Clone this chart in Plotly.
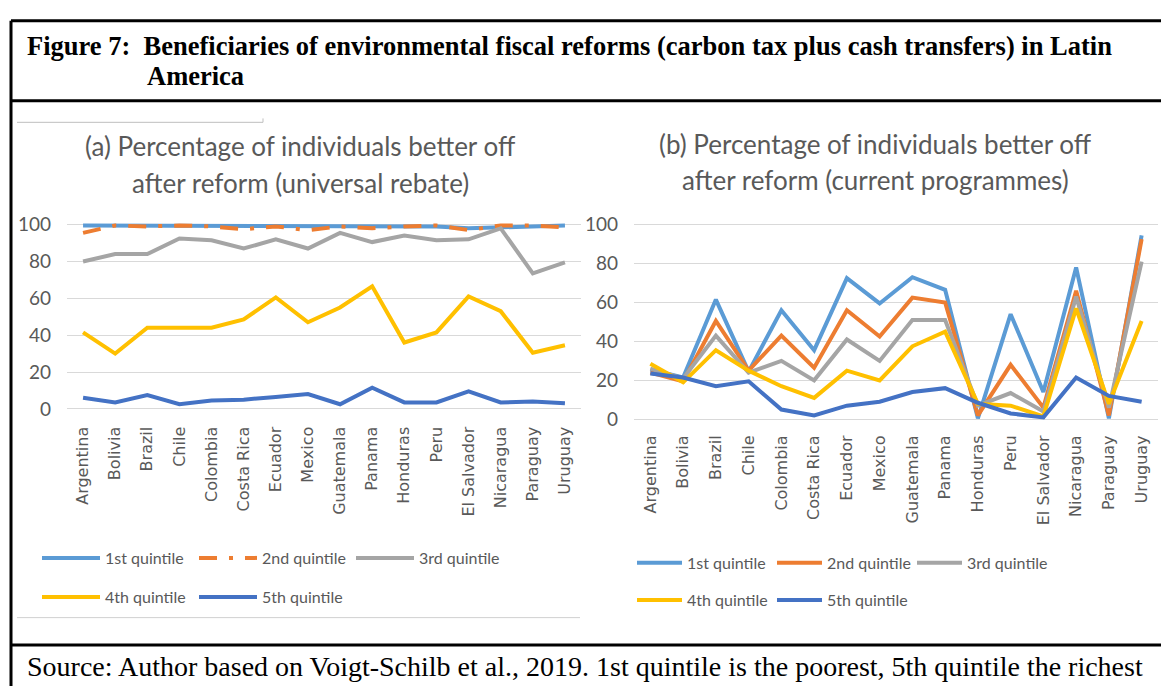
import plotly.graph_objects as go

W, H = 1161, 693

countries = ["Argentina", "Bolivia", "Brazil", "Chile", "Colombia", "Costa Rica", "Ecuador",
             "Mexico", "Guatemala", "Panama", "Honduras", "Peru", "El Salvador", "Nicaragua",
             "Paraguay", "Uruguay"]

series_names = ["1st quintile", "2nd quintile", "3rd quintile", "4th quintile", "5th quintile"]

# (a) universal rebate
a_q1 = [99.5, 99.5, 99.5, 99.5, 99.5, 99.5, 99.5, 99.5, 99.5, 99.5, 99.5, 99, 98, 98.5, 99.5, 99.5]
a_q2 = [95.5, 99.5, 99, 99.5, 99, 97.5, 99, 97, 99, 98, 99, 99.5, 97, 99.5, 99.5, 98.5]
a_q3 = [80, 84, 84, 92.5, 91.5, 87, 92, 87, 95.5, 90.5, 94, 91.5, 92, 98, 73.5, 79.5]
a_q4 = [41.5, 30, 44, 44, 44, 48.5, 60.5, 47, 55, 66.5, 36, 41.5, 61, 53, 30.5, 34.5]
a_q5 = [6, 3.5, 7.5, 2.5, 4.5, 5, 6.5, 8, 2.5, 11.5, 3.5, 3.5, 9.5, 3.5, 4, 3]

# (b) current programmes
b_q1 = [25.5, 21.5, 61.5, 24.5, 56, 35.5, 72.5, 59.5, 73, 66.5, 0.5, 54, 14, 78, 0.5, 94.5]
b_q2 = [24, 19.5, 50.5, 25, 43, 26.5, 56, 42.5, 62.5, 60, 2, 28, 6, 66, 2, 92.5]
b_q3 = [26, 21, 43, 24, 30, 20, 41, 30, 51, 51, 7, 13.5, 4, 63, 6, 81]
b_q4 = [28.5, 19, 35.5, 25, 17, 11, 25, 20, 37.5, 45, 8, 7, 1.5, 57, 8, 50.5]
b_q5 = [23.5, 21.5, 17, 19.5, 5, 2, 7, 9, 14, 16, 8.5, 3, 1, 21.5, 12, 9]

y_ticks = [0, 20, 40, 60, 80, 100]

colors = ["#5B9BD5", "#ED7D31", "#A5A5A5", "#FFC000", "#4472C4"]
dashes_a = ["solid", "18px,12px,4px,12px", "solid", "solid", "solid"]
GRAY = "#595959"
CHART_FONT = "Lato"


def px(x):
    return x / W


def py(y):
    return 1 - y / H


fig = go.Figure()

a_series = [a_q1, a_q2, a_q3, a_q4, a_q5]
b_series = [b_q1, b_q2, b_q3, b_q4, b_q5]

for i, (name, vals) in enumerate(zip(series_names, a_series)):
    fig.add_trace(go.Scatter(
        x=countries, y=vals, name=name, mode="lines",
        line=dict(color=colors[i], width=4, dash=dashes_a[i]),
        xaxis="x", yaxis="y",
        legend="legend" if i < 3 else "legend2",
    ))

for i, (name, vals) in enumerate(zip(series_names, b_series)):
    fig.add_trace(go.Scatter(
        x=countries, y=vals, name=name, mode="lines",
        line=dict(color=colors[i], width=4),
        xaxis="x2", yaxis="y2",
        legend="legend3" if i < 3 else "legend4",
    ))

xcommon = dict(type="category", range=[-0.5, 15.5], tickangle=-90, showgrid=False,
               showline=False, zeroline=False, ticks="",
               tickfont=dict(family="DejaVu Sans", size=16, color=GRAY))
ycommon = dict(range=[-2, 102], tickvals=y_ticks, showgrid=True, gridcolor="#D9D9D9",
               gridwidth=1, zeroline=False, showline=False, ticks="",
               tickfont=dict(family=CHART_FONT, size=19, color=GRAY), ticklabelstandoff=15)

leg_common = dict(orientation="h", xanchor="left", yanchor="middle", bgcolor="rgba(0,0,0,0)",
                  font=dict(family=CHART_FONT, size=16, color=GRAY), traceorder="normal",
                  tracegroupgap=0)

fig.update_layout(
    width=W, height=H,
    margin=dict(l=0, r=0, t=0, b=0),
    paper_bgcolor="white", plot_bgcolor="white",
    xaxis=dict(domain=[px(67), px(581)], anchor="y", ticklabelstandoff=10, **xcommon),
    yaxis=dict(domain=[py(413.1), py(216.9)], anchor="x", **ycommon),
    xaxis2=dict(domain=[px(634), px(1158)], anchor="y2", ticklabelstandoff=8, **xcommon),
    yaxis2=dict(domain=[py(424), py(216.7)], anchor="x2", **ycommon),
    legend=dict(x=px(37), y=py(562), itemwidth=58, entrywidth=84, **leg_common),
    legend2=dict(x=px(37), y=py(602), itemwidth=58, entrywidth=84, **leg_common),
    legend3=dict(x=px(632), y=py(567), itemwidth=45, entrywidth=80, **leg_common),
    legend4=dict(x=px(632), y=py(605), itemwidth=45, entrywidth=80, **leg_common),
    showlegend=True,
)

# Panel titles
titles = [
    ("(a) Percentage of individuals better off", 300, 140),
    ("after reform (universal rebate)", 300, 178),
    ("(b) Percentage of individuals better off", 875, 138),
    ("after reform (current programmes)", 875, 175),
]
for txt, cx, cy in titles:
    fig.add_annotation(text=txt, x=px(cx), y=py(cy), xref="paper", yref="paper",
                       xanchor="center", yanchor="middle", showarrow=False,
                       font=dict(family=CHART_FONT, size=26, color=GRAY))

# Figure caption
fig.add_annotation(
    text="<b>Figure 7:  Beneficiaries of environmental fiscal reforms (carbon tax plus cash transfers) in Latin</b>",
    x=px(25), y=py(38), xref="paper", yref="paper", xanchor="left", yanchor="middle",
    showarrow=False, font=dict(family="Liberation Serif", size=26.5, color="black"))
fig.add_annotation(
    text="<b>America</b>", x=px(145), y=py(69), xref="paper", yref="paper",
    xanchor="left", yanchor="middle", showarrow=False,
    font=dict(family="Liberation Serif", size=26.5, color="black"))
fig.add_annotation(
    text="Source: Author based on Voigt-Schilb et al., 2019. 1st quintile is the poorest, 5th quintile the richest",
    x=px(25), y=py(673), xref="paper", yref="paper", xanchor="left", yanchor="middle",
    showarrow=False, font=dict(family="Liberation Serif", size=28, color="black"))

# Frame lines
def hline(y, x0, x1, color="black", width=3):
    fig.add_shape(type="line", xref="paper", yref="paper", x0=px(x0), x1=px(x1),
                  y0=py(y), y1=py(y), line=dict(color=color, width=width))


def vline(x, y0, y1, color="black", width=3):
    fig.add_shape(type="line", xref="paper", yref="paper", x0=px(x), x1=px(x),
                  y0=py(y0), y1=py(y1), line=dict(color=color, width=width))

hline(12, 11, 1161)
hline(94, 11, 1161)
hline(651, 11, 1161)
vline(11, 12, 693)
hline(116, 17, 263, color="#BFBFBF", width=1)
vline(263, 112, 116, color="#BFBFBF", width=1)
hline(623, 17, 580, color="#D0D0D0", width=1)

fig.write_html(
    "out.html",
    config={"displayModeBar": False},
    post_script="document.body.style.margin='0';document.body.style.padding='0';"
                "document.documentElement.style.overflow='hidden';",
)
